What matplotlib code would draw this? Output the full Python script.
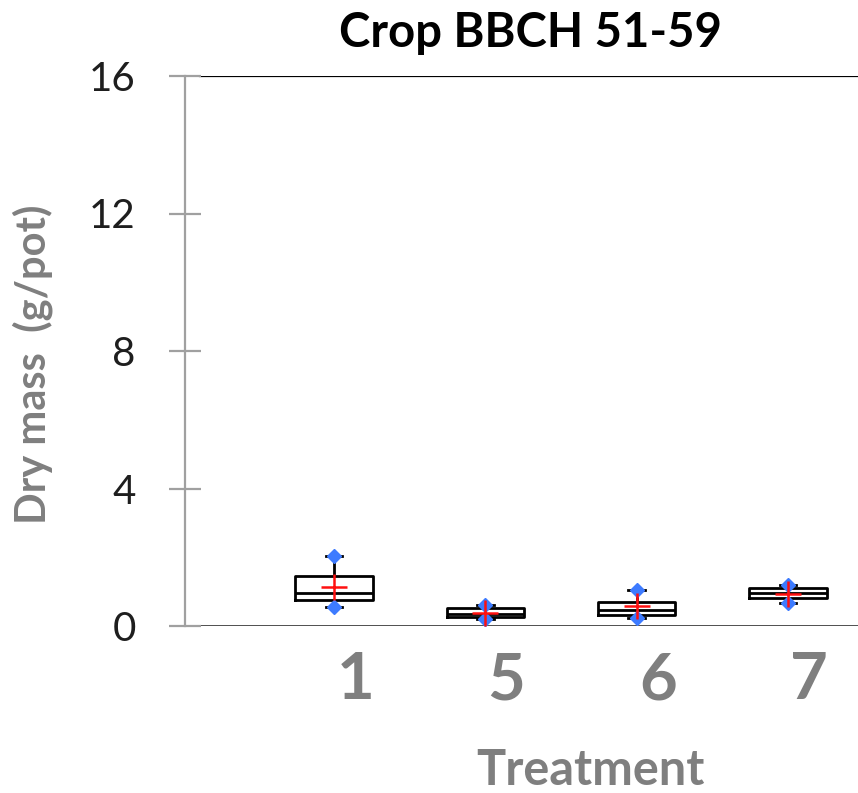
import matplotlib
matplotlib.use("Agg")
import matplotlib.pyplot as plt

plt.rcParams['font.family'] = ['Lato', 'DejaVu Sans']

# Treatment groups and their five-number summaries (g/pot)
treatments = ["1", "5", "6", "7"]
minimum = [0.55, 0.20, 0.23, 0.67]
q1 = [0.76, 0.26, 0.32, 0.81]
median = [0.96, 0.36, 0.47, 0.96]
q3 = [1.45, 0.52, 0.70, 1.10]
maximum = [2.04, 0.62, 1.05, 1.19]
mean = [1.13, 0.38, 0.58, 0.93]

y_ticks = [0, 4, 8, 12, 16]

# layout
box_pos = [1, 2, 3, 4]
label_shift = 0.14

fig = plt.figure(figsize=(8.58, 7.93), dpi=100)
ax = fig.add_axes([185 / 858, 167 / 793, 1 - 185 / 858, 550 / 793])

stats = []
for i, t in enumerate(treatments):
    stats.append(dict(label=t, whislo=minimum[i], q1=q1[i], med=median[i],
                      q3=q3[i], whishi=maximum[i], fliers=[]))

ax.bxp(stats, positions=box_pos, widths=0.51, capwidths=0.11,
       showfliers=False, manage_ticks=False,
       boxprops=dict(color='black', linewidth=2.0),
       medianprops=dict(color='black', linewidth=2.0),
       whiskerprops=dict(color='black', linewidth=2.0),
       capprops=dict(color='black', linewidth=2.0))

# extreme values
ax.plot(box_pos, maximum, linestyle='none', marker='D', markersize=7,
        color='#3d7bff', zorder=4)
ax.plot(box_pos, minimum, linestyle='none', marker='D', markersize=7,
        color='#3d7bff', zorder=4)
# means
ax.plot(box_pos, mean, linestyle='none', marker='+', markersize=19,
        markeredgewidth=1.8, color='#ff1010', zorder=5)

ax.set_xlim(0.015, 4.463)
ax.set_ylim(0, 16)

ax.spines['right'].set_visible(False)
ax.spines['top'].set_visible(False)
ax.spines['bottom'].set_visible(False)
ax.spines['left'].set_color('#a0a0a0')
ax.spines['left'].set_linewidth(1.6)

x_off = 15 / (858 - 185)
ax.axhline(0, xmin=x_off, xmax=1, color='#404040', linewidth=2.0, zorder=1)
ax.axhline(16, xmin=x_off, xmax=1, color='black', linewidth=1.6, zorder=1)

ax.set_yticks(y_ticks)
ax.set_yticklabels([str(v) for v in y_ticks])
ax.tick_params(axis='y', direction='inout', length=23, width=1.6,
               color='#a0a0a0', labelsize=29, labelcolor='#1e1e1e', pad=24)

ax.set_xticks([p + label_shift for p in box_pos])
ax.set_xticklabels(treatments)
ax.tick_params(axis='x', length=0, labelsize=47, labelcolor='#7f7f7f', pad=18)
for lbl in ax.get_xticklabels():
    lbl.set_fontweight('bold')

fig.text(530 / 858, 1 - 47 / 793, "Crop BBCH 51-59", ha='center', va='baseline',
         fontsize=34, fontweight='bold', color='black')
fig.text(590 / 858, 1 - 785 / 793, "Treatment", ha='center', va='baseline',
         fontsize=35, fontweight='bold', color='#7f7f7f')
fig.text(33 / 858, 1 - 364 / 793, "Dry mass  (g/pot)", ha='center', va='center',
         rotation=90, fontsize=30, fontweight='bold', color='#7f7f7f')

fig.savefig("out.png", dpi=100)
